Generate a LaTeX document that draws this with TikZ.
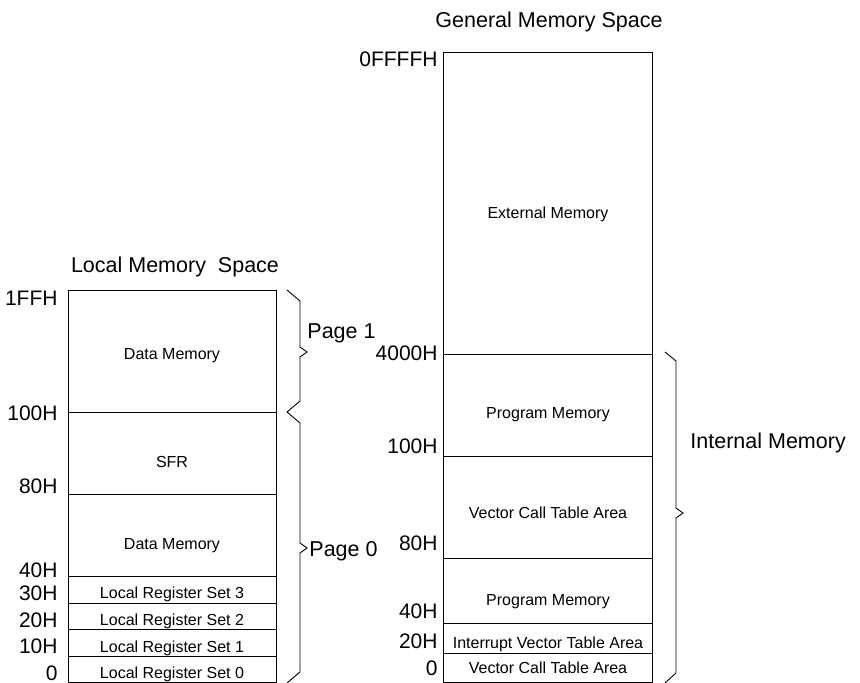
\documentclass[tikz,border=0pt]{standalone}
\usepackage{fontspec}
\setmainfont{Liberation Sans}
\newcommand{\cellfont}{\fontsize{16}{19}\selectfont}
\newcommand{\addrfont}{\fontsize{21}{25}\selectfont}
\newcommand{\titlefont}{\fontsize{21.5}{25}\selectfont}
\begin{document}
\begin{tikzpicture}[x=1pt,y=-1pt,line width=0.9pt,
  addr/.style={anchor=base east,font=\addrfont,inner sep=0pt},
  cell/.style={anchor=base,font=\cellfont,inner sep=0pt},
  title/.style={anchor=base,font=\titlefont,inner sep=0pt}]
\useasboundingbox (0,0) rectangle (860,683);

% local memory space
\node[title] (ltitle) at (175,272) {Local Memory\ \ Space};
\draw (68,290) rectangle (276,682);
\foreach \y in {412,494,576,603,629,656}
	\draw (68,\y) -- (276,\y);
\foreach \i/\y/\ytext in {0/305/1FFH,1/420/100H,2/493/80H,3/577/40H,4/600/30H,5/627/20H,6/653/10H,7/680/0}
	\node[addr] (la\i) at (58,\y) {\ytext};
\foreach \i/\y/\t in {0/359/Data Memory,1/467/SFR,2/549/Data Memory,3/598/Local Register Set 3,%
4/625/Local Register Set 2,5/652/Local Register Set 1,6/678/Local Register Set 0}
	\node[cell] (lc\i) at (172,\y) {\t};

\draw (287,290) -- (300,301) -- (300,347) -- (307,352) -- (300,357) -- (300,401) -- (287,412);
\draw (287,412) -- (300,423) -- (300,543) -- (307,548) -- (300,553) -- (300,672) -- (287,683);
\node[title,anchor=base west] (page1) at (307,338) {Page 1};
\node[title,anchor=base west] (page0) at (309,556) {Page 0};

% general memory space
\node[title] (gtitle) at (549,27) {General Memory Space};
\draw (443,52) rectangle (652,682);
\foreach \y in {354,456,558,623,653}
	\draw (443,\y) -- (652,\y);
\foreach \i/\y/\ytext in {0/66/0FFFFH,1/360/4000H,2/453/100H,3/550/80H,4/618/40H,5/648/20H,6/675/0}
	\node[addr] (ga\i) at (438,\y) {\ytext};
\foreach \i/\y/\t in {0/218/External Memory,1/418/Program Memory,2/518/Vector Call Table Area,%
3/605/Program Memory,4/648/Interrupt Vector Table Area,5/673/Vector Call Table Area}
	\node[cell] (gc\i) at (548,\y) {\t};

\draw (665,352) -- (676,361) -- (676,508) -- (683,513) -- (676,518) -- (676,673) -- (665,683);
\node[title,anchor=base west] (internal) at (690,448) {Internal Memory};
\end{tikzpicture}
\end{document}
